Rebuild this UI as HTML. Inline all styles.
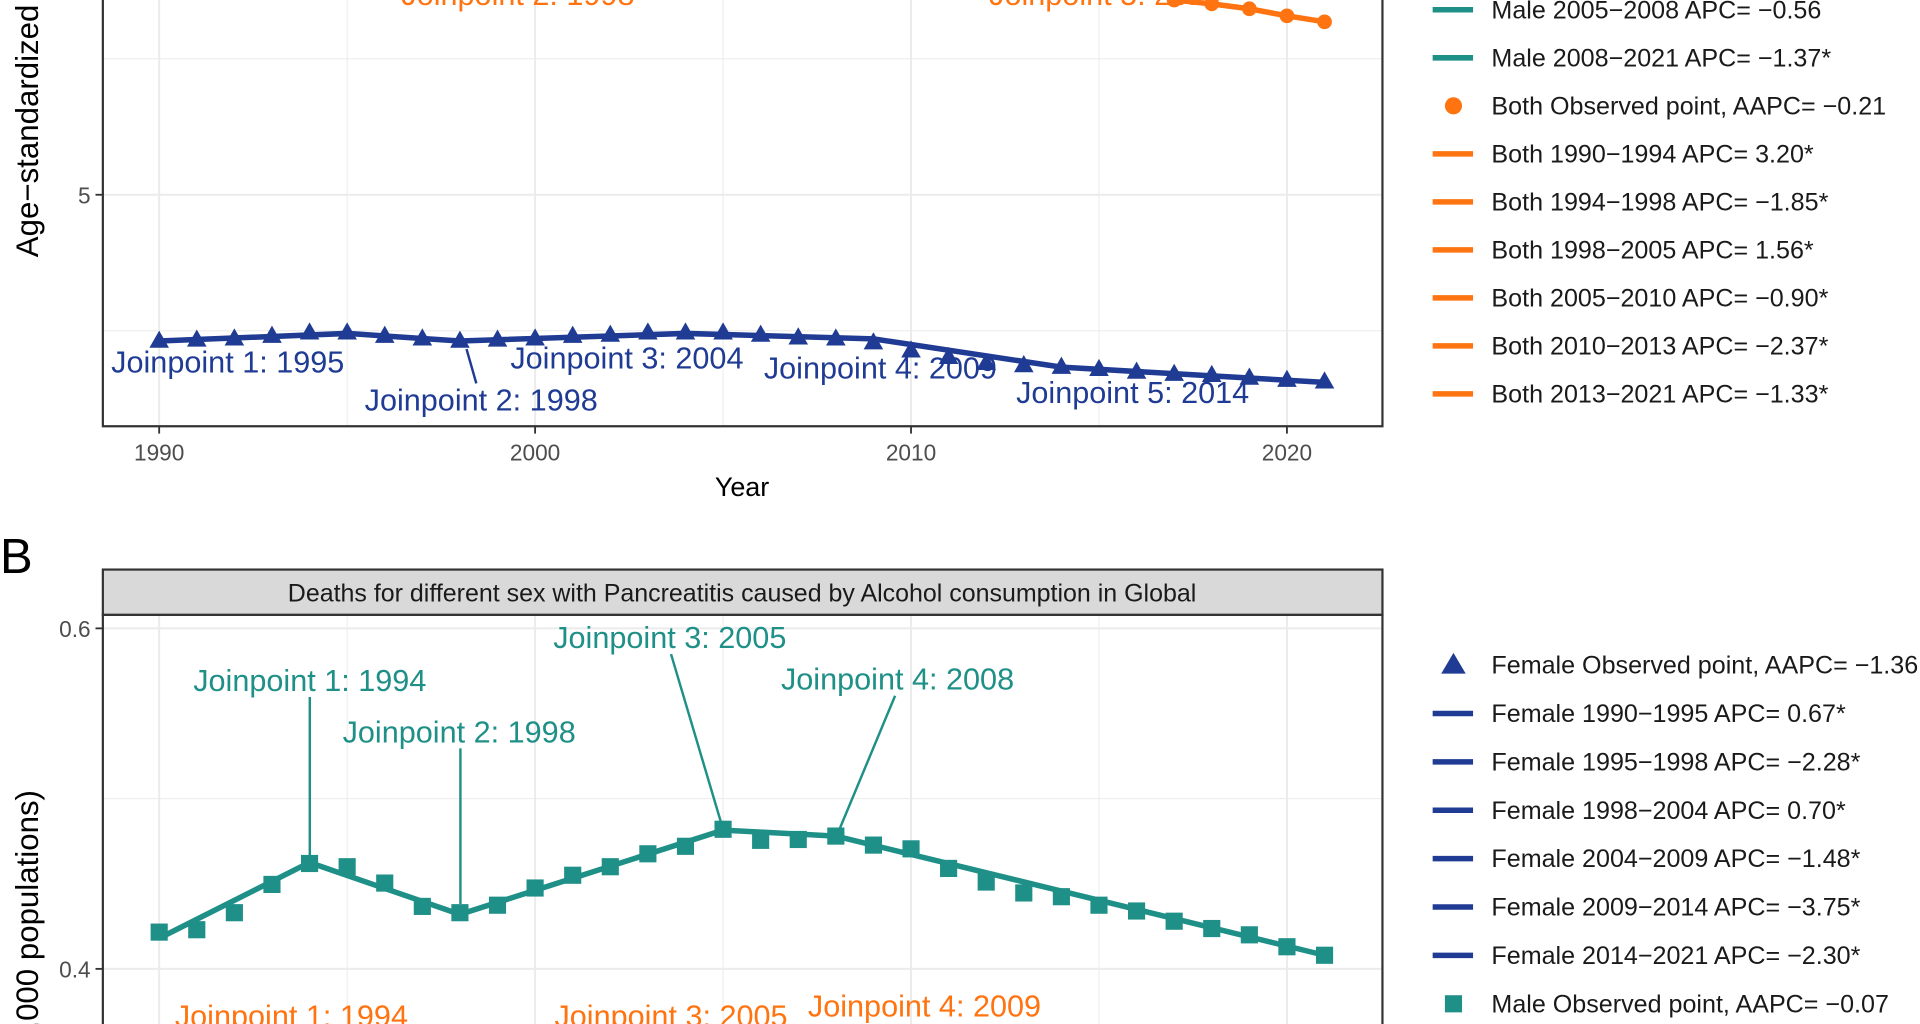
<!DOCTYPE html>
<html><head><meta charset="utf-8">
<style>
html,body{margin:0;padding:0;background:#fff;overflow:hidden;width:1920px;height:1024px}
svg{display:block;font-family:"Liberation Sans",Arial,sans-serif;overflow:hidden}
</style></head>
<body>
<svg id="root" width="1920" height="1024" viewBox="0 0 1568 836" preserveAspectRatio="none" xmlns="http://www.w3.org/2000/svg">
<defs>
<clipPath id="clipTop"><rect x="84" y="0" width="1045" height="348"/></clipPath>
<clipPath id="clipBot"><rect x="84" y="502" width="1045" height="334"/></clipPath>
</defs>
<g id="gtop"></g>
<g id="gbot"></g>
<g id="gleg"></g>
</svg>
<script>
const years = [1990,1991,1992,1993,1994,1995,1996,1997,1998,1999,2000,2001,2002,2003,2004,2005,2006,2007,2008,2009,2010,2011,2012,2013,2014,2015,2016,2017,2018,2019,2020,2021];
const femaleA = [4.730,4.732,4.734,4.739,4.745,4.745,4.739,4.734,4.730,4.732,4.734,4.739,4.741,4.745,4.745,4.745,4.741,4.736,4.734,4.727,4.712,4.700,4.689,4.685,4.682,4.678,4.673,4.669,4.667,4.662,4.658,4.655];
const femaleFitYears = [1990,1995,1998,2004,2009,2014,2021];
const femaleFitA = [4.731,4.745,4.731,4.745,4.735,4.683,4.655];
const bothYears = [2017,2018,2019,2020,2021];
const bothA = [5.358,5.351,5.342,5.329,5.318];
const maleB = [0.4216,0.423,0.433,0.4496,0.4619,0.460,0.4504,0.4367,0.433,0.4374,0.4475,0.455,0.460,0.4676,0.472,0.482,0.4755,0.476,0.478,0.4727,0.4705,0.459,0.451,0.4446,0.4424,0.4374,0.434,0.428,0.4237,0.420,0.413,0.408];
const maleFitYears = [1990,1994,1998,2005,2008,2021];
const maleFitB = [0.418,0.4625,0.432,0.4815,0.478,0.408];
const xTicks = [1990,2000,2010,2020];
const yTicksA = [5];
const yTicksB = [0.4,0.6];
const legendA = ["Male 2005\u22122008 APC= \u22120.56","Male 2008\u22122021 APC= \u22121.37*","Both Observed point, AAPC= \u22120.21","Both 1990\u22121994 APC= 3.20*","Both 1994\u22121998 APC= \u22121.85*","Both 1998\u22122005 APC= 1.56*","Both 2005\u22122010 APC= \u22120.90*","Both 2010\u22122013 APC= \u22122.37*","Both 2013\u22122021 APC= \u22121.33*"];
const legendB = ["Female Observed point, AAPC= \u22121.36","Female 1990\u22121995 APC= 0.67*","Female 1995\u22121998 APC= \u22122.28*","Female 1998\u22122004 APC= 0.70*","Female 2004\u22122009 APC= \u22121.48*","Female 2009\u22122014 APC= \u22123.75*","Female 2014\u22122021 APC= \u22122.30*","Male Observed point, AAPC= \u22120.07"];

const NS="http://www.w3.org/2000/svg";
const TEAL="#1f9087", ORANGE="#ff7410", NAVY="#1f3b93";
function mk(parent,tag,attrs,text){const e=document.createElementNS(NS,tag);for(const k in attrs)e.setAttribute(k,attrs[k]);if(text!==undefined)e.textContent=text;parent.appendChild(e);return e;}
const xS=yr=>130+(yr-1990)*30.7;
const yA=v=>159-(v-5)*444;
const yB=v=>791-(v-0.4)*1390;

const gTop=document.getElementById('gtop');
const gBot=document.getElementById('gbot');
const gLeg=document.getElementById('gleg');

function grid(g,y0,y1,hMajor,hMinor){
  for(let yr=1985;yr<=2025;yr+=5){const xx=xS(yr);if(xx<84||xx>1129)continue;
    const l=mk(g,'line',{x1:xx,x2:xx,y1:y0,y2:y1,stroke:'#ebebeb','stroke-width':yr%10===0?1.6:0.8});
    
    }
  hMajor.forEach(yy=>{const l=mk(g,'line',{x1:84,x2:1129,y1:yy,y2:yy,stroke:'#ebebeb','stroke-width':1.6});
    
    });
  hMinor.forEach(yy=>{const l=mk(g,'line',{x1:84,x2:1129,y1:yy,y2:yy,stroke:'#ebebeb','stroke-width':0.8});
    
    });
}
function tri(g,cx,cy,c){return mk(g,'polygon',{points:`${cx},${cy-9} ${cx-8},${cy+5} ${cx+8},${cy+5}`,fill:c});}
function lbl(g,txt,cx,cy,c,name){const t=mk(g,'text',{x:cx,y:cy+8,'text-anchor':'middle','font-size':25,fill:c},txt);
  
  return t;}

/* ---------- Panel A ---------- */
grid(gTop,0,348,[yA(5)],[yA(5.25),yA(4.75)]);
const ca=mk(gTop,'g',{'clip-path':'url(#clipTop)'});
const fl=mk(ca,'polyline',{points:femaleFitYears.map((yr,i)=>xS(yr)+','+yA(femaleFitA[i])).join(' '),fill:'none',stroke:NAVY,'stroke-width':4.5,'stroke-linejoin':'round'});


years.forEach((yr,i)=>{const t=tri(ca,xS(yr),yA(femaleA[i]),NAVY);
  
  });
const bfl=mk(ca,'polyline',{points:bothYears.map((yr,i)=>xS(yr)+','+yA(bothA[i])).join(' '),fill:'none',stroke:ORANGE,'stroke-width':4.5});


bothYears.forEach((yr,i)=>{const c=mk(ca,'circle',{cx:xS(yr),cy:yA(bothA[i]),r:6,fill:ORANGE});
  
  });
lbl(gTop,'Joinpoint 2: 1998',423,-4,ORANGE,'both-joinpoint-2-label');
lbl(gTop,'Joinpoint 5: 2014',903,-4,ORANGE,'both-joinpoint-5-label');
lbl(gTop,'Joinpoint 1: 1995',186,296,NAVY,'female-joinpoint-1-label');
lbl(gTop,'Joinpoint 2: 1998',393,327,NAVY,'female-joinpoint-2-label');
mk(gTop,'line',{x1:381,y1:285,x2:389,y2:313,stroke:NAVY,'stroke-width':2});
lbl(gTop,'Joinpoint 3: 2004',512,293,NAVY,'female-joinpoint-3-label');
lbl(gTop,'Joinpoint 4: 2009',719,301,NAVY,'female-joinpoint-4-label');
lbl(gTop,'Joinpoint 5: 2014',925,321,NAVY,'female-joinpoint-5-label');
const fa=mk(gTop,'polyline',{points:'84,0 84,348 1129,348 1129,0',fill:'none',stroke:'#333','stroke-width':1.8});


xTicks.forEach(t=>{mk(gTop,'line',{x1:xS(t),x2:xS(t),y1:348,y2:354,stroke:'#333','stroke-width':1.5});
  const tx=mk(gTop,'text',{x:xS(t),y:376,'text-anchor':'middle','font-size':18.5,fill:'#4d4d4d'},String(t));
  
  });
yTicksA.forEach(v=>{mk(gTop,'line',{x1:78,x2:84,y1:yA(v),y2:yA(v),stroke:'#333','stroke-width':1.5});
  const tx=mk(gTop,'text',{x:74,y:yA(v)+7,'text-anchor':'end','font-size':18.5,fill:'#4d4d4d'},String(v));
  
  });
const xt=mk(gTop,'text',{x:606,y:405,'text-anchor':'middle','font-size':22,fill:'#000'},'Year');


const yt=mk(gTop,'text',{x:0,y:0,transform:'translate(31,210) rotate(-90)','font-size':25.5,fill:'#000','text-anchor':'start'},'Age\u2212standardized deaths rate (per 100,000 populations)');



/* ---------- Panel B ---------- */
const bl=mk(gBot,'text',{x:0,y:468,'font-size':40,fill:'#000'},'B');


const strip=mk(gBot,'rect',{x:84,y:465,width:1045,height:37,fill:'#d9d9d9',stroke:'#333','stroke-width':1.8});


const st=mk(gBot,'text',{x:606,y:491,'text-anchor':'middle','font-size':20.4,fill:'#1a1a1a'},'Deaths for different sex with Pancreatitis caused by Alcohol consumption in Global');


grid(gBot,502,836,[yB(0.6),yB(0.4)],[yB(0.5)]);
const cb=mk(gBot,'g',{'clip-path':'url(#clipBot)'});
const mfl=mk(cb,'polyline',{points:maleFitYears.map((yr,i)=>xS(yr)+','+yB(maleFitB[i])).join(' '),fill:'none',stroke:TEAL,'stroke-width':4.5,'stroke-linejoin':'round'});


years.forEach((yr,i)=>{const r=mk(cb,'rect',{x:xS(yr)-7,y:yB(maleB[i])-7,width:14,height:14,fill:TEAL});
  
  });
lbl(gBot,'Joinpoint 1: 1994',253,556,TEAL,'male-joinpoint-1-label');
mk(gBot,'line',{x1:253,y1:569,x2:253,y2:703,stroke:TEAL,'stroke-width':2});
lbl(gBot,'Joinpoint 2: 1998',375,598,TEAL,'male-joinpoint-2-label');
mk(gBot,'line',{x1:376,y1:611,x2:376,y2:738,stroke:TEAL,'stroke-width':2});
lbl(gBot,'Joinpoint 3: 2005',547,521,TEAL,'male-joinpoint-3-label');
mk(gBot,'line',{x1:548,y1:534,x2:589,y2:672,stroke:TEAL,'stroke-width':2});
lbl(gBot,'Joinpoint 4: 2008',733,555,TEAL,'male-joinpoint-4-label');
mk(gBot,'line',{x1:731,y1:568,x2:686,y2:676,stroke:TEAL,'stroke-width':2});
lbl(gBot,'Joinpoint 1: 1994',238,830,ORANGE,'both-joinpoint-1-label-b');
lbl(gBot,'Joinpoint 3: 2005',548,830,ORANGE,'both-joinpoint-3-label-b');
lbl(gBot,'Joinpoint 4: 2009',755,822,ORANGE,'both-joinpoint-4-label-b');
const fb=mk(gBot,'polyline',{points:'84,836 84,502 1129,502 1129,836',fill:'none',stroke:'#333','stroke-width':1.8});


yTicksB.forEach(v=>{mk(gBot,'line',{x1:78,x2:84,y1:yB(v),y2:yB(v),stroke:'#333','stroke-width':1.5});
  const tx=mk(gBot,'text',{x:74,y:yB(v)+7,'text-anchor':'end','font-size':18.5,fill:'#4d4d4d'},String(v));
  
  });
const yt2=mk(gBot,'text',{x:0,y:0,transform:'translate(31,645) rotate(-90)','font-size':25.5,fill:'#000','text-anchor':'end'},'Age\u2212standardized deaths rate (per 100,000 populations)');



/* ---------- Legends ---------- */
function legItem(txt,yy,kind,c){
  const g=mk(gLeg,'g',{});
  
  
  if(kind==='line')mk(g,'line',{x1:1170,x2:1203,y1:yy,y2:yy,stroke:c,'stroke-width':4.5});
  else if(kind==='circle')mk(g,'circle',{cx:1187,cy:yy,r:7,fill:c});
  else if(kind==='tri')mk(g,'polygon',{points:`1187,${yy-10} 1177,${yy+7} 1197,${yy+7}`,fill:c});
  else mk(g,'rect',{x:1180,y:yy-7,width:14,height:14,fill:c});
  mk(g,'text',{x:1218,y:yy+7,'font-size':20.5,fill:'#1a1a1a'},txt);
}
legendA.forEach((t,i)=>{const yy=8+i*39.2;
  const kind=i===2?'circle':'line';const c=i<2?TEAL:ORANGE;legItem(t,yy,kind,c);});
legendB.forEach((t,i)=>{const yy=543+i*39.5;
  let kind='line',c=NAVY;if(i===0)kind='tri';if(i===7){kind='rect';c=TEAL;}legItem(t,yy,kind,c);});
</script>
</body></html>
